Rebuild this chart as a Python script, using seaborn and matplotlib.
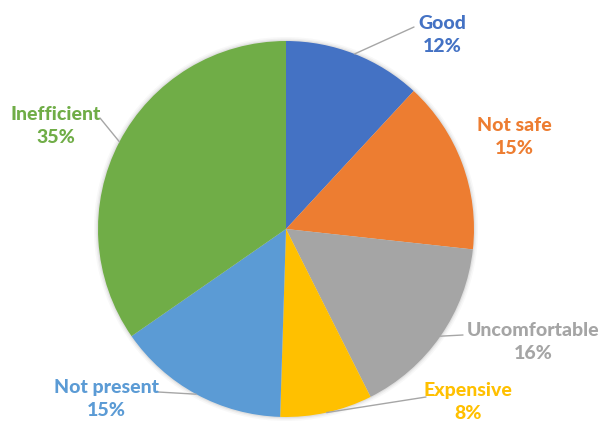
import numpy as np
import matplotlib
matplotlib.use("Agg")
import matplotlib.pyplot as plt
from matplotlib.patches import Circle
import seaborn as sns

sns.set_theme(style="white")
plt.rcParams["font.family"] = ["Lato", "DejaVu Sans"]

# Survey answers, clockwise from 12 o'clock
categories = ["Good", "Not safe", "Uncomfortable", "Expensive", "Not present", "Inefficient"]
shares = [12, 15, 16, 8, 15, 35]
colors = ["#4472C4", "#ED7D31", "#A5A5A5", "#FFC000", "#5B9BD5", "#70AD47"]

W, H = 604, 421
R = 188.0                # pie radius in pixels
CX, CY = 286.0, 229.0    # pie centre in pixels (from top-left)

fig = plt.figure(figsize=(W / 100, H / 100), dpi=100)
ax = fig.add_axes([0, 0, 1, 1])


def px(x, y):
    """Pixel position (top-left origin) to data coordinates."""
    return (x - CX) / R, (CY - y) / R


# soft shadow ring around the pie
for k, a in [(4.0, 0.05), (2.5, 0.08), (1.2, 0.12)]:
    ax.add_patch(Circle((0, 0), 1 + k / R, color="#7F7F7F", alpha=a, lw=0, zorder=0))

wedges, _ = ax.pie(shares, colors=colors, startangle=90, counterclock=False,
                   radius=1.0, wedgeprops=dict(linewidth=0))
for w in wedges:
    w.set_zorder(2)

ax.set_xlim(-CX / R, (W - CX) / R)
ax.set_ylim(-(H - CY) / R, CY / R)
ax.set_aspect("equal")
ax.axis("off")

# label centres (pixels)
label_pos = {
    "Good": (442, 35),
    "Not safe": (514, 137),
    "Uncomfortable": (533, 342),
    "Expensive": (468, 402),
    "Not present": (106, 399),
    "Inefficient": (56, 126),
}
# where each leader line leaves its label (pixels)
leader_start = {
    "Good": (414, 27),
    "Uncomfortable": (463, 335),
    "Expensive": (426, 397),
    "Not present": (158, 392),
    "Inefficient": (100, 118),
}

total = sum(shares)
for w, name, val, col in zip(wedges, categories, shares, colors):
    x, y = label_pos[name]
    lx, ly = px(x, y)
    ax.text(lx, ly, f"{name}\n{round(100 * val / total)}%", color=col,
            fontsize=14, fontweight="black", ha="center", va="center",
            linespacing=1.45, zorder=4)
    if name in leader_start:
        mid = np.deg2rad((w.theta1 + w.theta2) / 2)
        ex, ey = np.cos(mid), np.sin(mid)
        sx, sy = px(*leader_start[name])
        ax.plot([sx, ex], [sy, ey], color="#A6A6A6", lw=1.0, zorder=3)

fig.savefig("out.png", dpi=100)
